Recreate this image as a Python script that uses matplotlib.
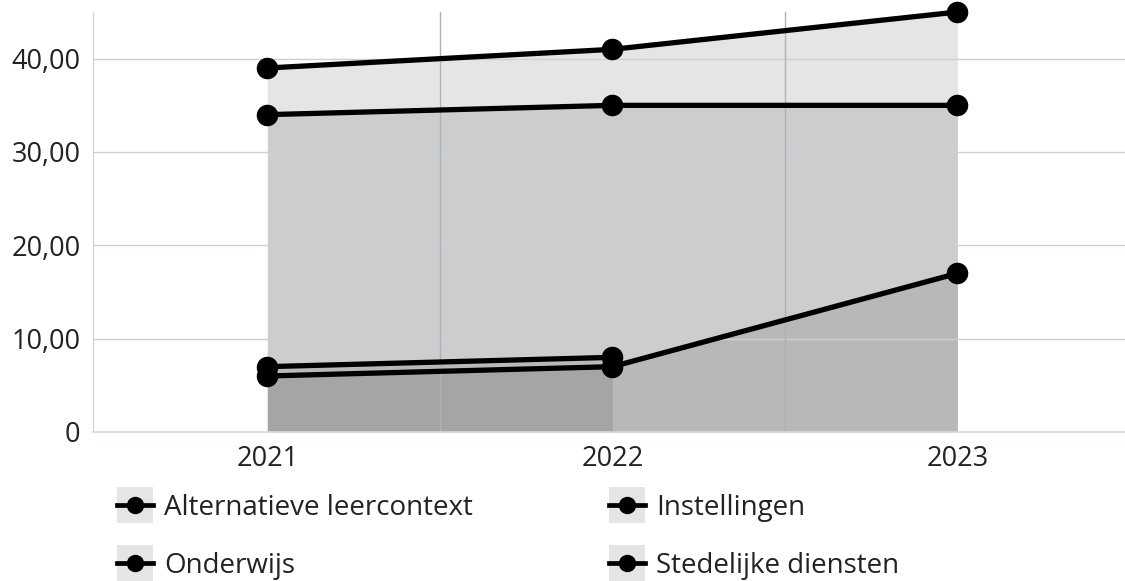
import numpy as np
import matplotlib
matplotlib.use("Agg")
import matplotlib.pyplot as plt
from matplotlib.legend_handler import HandlerBase
from matplotlib.patches import Rectangle
from matplotlib.lines import Line2D
from matplotlib.ticker import FuncFormatter

plt.rcParams['font.family'] = ['Open Sans', 'DejaVu Sans']

years = ["2021", "2022", "2023"]
series_names = ["Alternatieve leercontext", "Instellingen", "Onderwijs", "Stedelijke diensten"]
alternatieve = [7, 8, np.nan]
instellingen = [6, 7, 17]
onderwijs = [39, 41, 45]
stedelijke = [34, 35, 35]
y_ticks = [0, 10, 20, 30, 40]

series = [alternatieve, instellingen, onderwijs, stedelijke]

fig = plt.figure(figsize=(11.25, 5.81), dpi=100)
ax = fig.add_axes([93/1125, (581-432)/581, (1130-93)/1125, (432-12)/581])

x = np.arange(len(years))
for vals in series:
    v = np.array(vals, dtype=float)
    m = ~np.isnan(v)
    ax.fill_between(x[m], 0, v[m], color='black', alpha=0.1, linewidth=0, zorder=1)
for vals in series:
    v = np.array(vals, dtype=float)
    m = ~np.isnan(v)
    ax.plot(x[m], v[m], color='black', lw=3.8, marker='o', markersize=14.5,
            solid_capstyle='round', zorder=4, clip_on=False)

ax.set_xlim(-0.505, 2.5)
ax.set_ylim(0, 45)
ax.set_xticks(x)
ax.set_xticklabels(years)
ax.set_yticks(y_ticks)
ax.yaxis.set_major_formatter(FuncFormatter(lambda v, p: "0" if v == 0 else f"{v:.2f}".replace('.', ',')))

grid_c = '#c8d1dc'
for yv in y_ticks[1:]:
    ax.axhline(yv, color=grid_c, lw=1, zorder=2)
for xv in [0.5, 1.5]:
    ax.axvline(xv, color='#aab2bc', lw=1, zorder=2)

for s in ['top', 'right']:
    ax.spines[s].set_visible(False)
ax.spines['left'].set_color(grid_c)
ax.spines['bottom'].set_color('#d5dae0')
ax.spines['bottom'].set_linewidth(1.2)
ax.tick_params(length=0, labelsize=19.5, colors='#222222')
ax.tick_params(axis='y', pad=9)
ax.tick_params(axis='x', pad=9)


class BoxLineHandler(HandlerBase):
    def create_artists(self, legend, orig_handle, xdescent, ydescent, width, height, fontsize, trans):
        cy = height / 2 - ydescent
        side = width
        rect = Rectangle((-xdescent, cy - side / 2), width, side, facecolor='#e5e5e5',
                         edgecolor='none', transform=trans)
        line = Line2D([-xdescent, -xdescent + width], [cy, cy], color='black', lw=3.4, transform=trans)
        mk = Line2D([-xdescent + width / 2], [cy], marker='o', markersize=11.5, color='black',
                    linestyle='none', transform=trans)
        return [rect, line, mk]


handles = [Line2D([], [], color='black') for _ in series_names]
hmap = {h: BoxLineHandler() for h in handles}
fs = 20
fpx = fs * 100 / 72
common = dict(frameon=False, fontsize=fs, handlelength=36/fpx, handletextpad=11/fpx,
              labelspacing=1.08, borderpad=0, borderaxespad=0, handler_map=hmap)
leg1 = fig.legend([handles[0], handles[2]], [series_names[0], series_names[2]],
                  loc='center left', bbox_to_anchor=(117/1125, (581-537)/581), **common)
leg2 = fig.legend([handles[1], handles[3]], [series_names[1], series_names[3]],
                  loc='center left', bbox_to_anchor=(609/1125, (581-537)/581), **common)
for leg in (leg1, leg2):
    for t in leg.get_texts():
        t.set_color('#222222')

fig.savefig('out.png', dpi=100)
